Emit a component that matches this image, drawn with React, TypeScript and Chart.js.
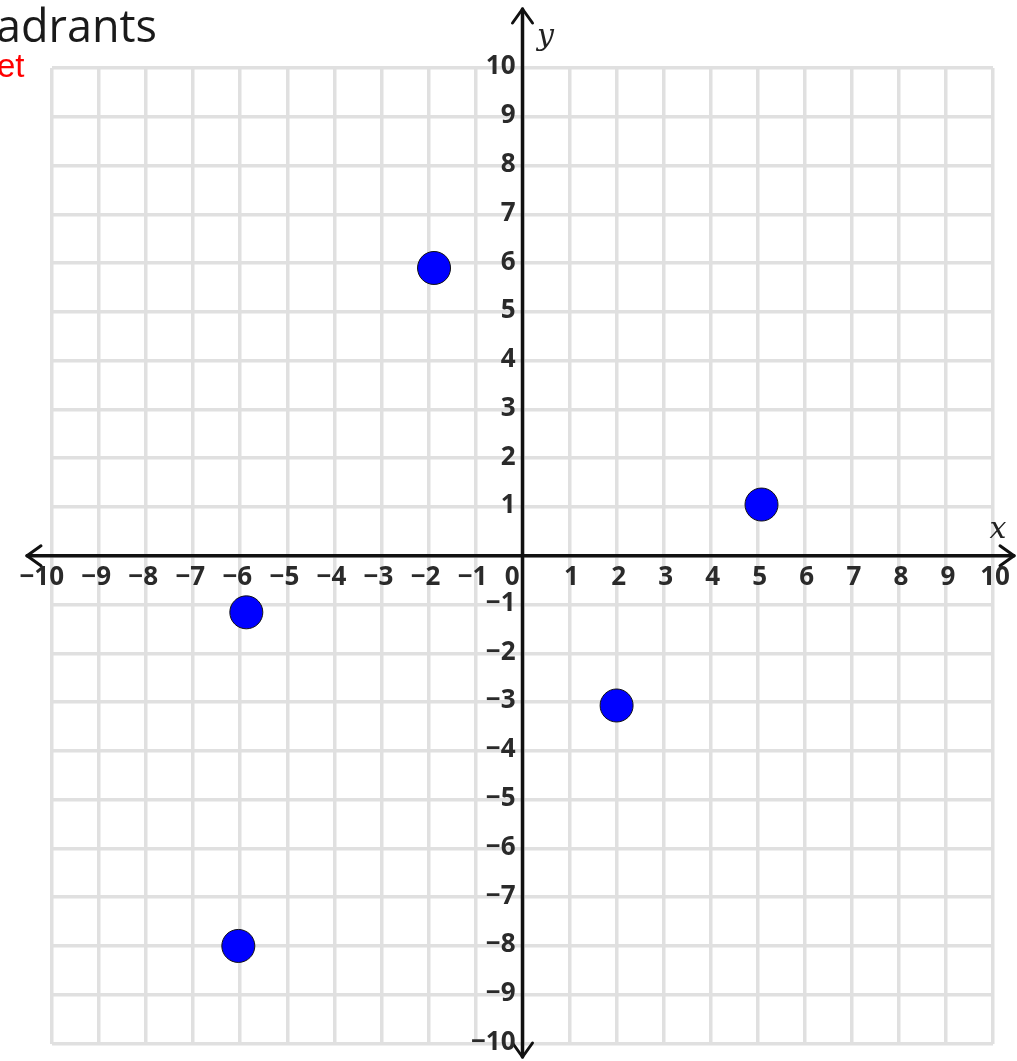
import React, { useEffect, useRef } from "react";
import { Chart, registerables } from "chart.js";

Chart.register(...registerables);

const pointXs = [-1.88, 5.08, -5.87, 2.0, -6.04];
const pointYs = [5.9, 1.05, -1.16, -3.07, -8.0];
const xTickValues = [-10, -9, -8, -7, -6, -5, -4, -3, -2, -1, 0, 1, 2, 3, 4, 5, 6, 7, 8, 9, 10];
const xTickLabels = ["−10", "−9", "−8", "−7", "−6", "−5", "−4", "−3", "−2", "−1", "0", "1", "2", "3", "4", "5", "6", "7", "8", "9", "10"];
const yTickValues = [-10, -9, -8, -7, -6, -5, -4, -3, -2, -1, 1, 2, 3, 4, 5, 6, 7, 8, 9, 10];
const yTickLabels = ["−10", "−9", "−8", "−7", "−6", "−5", "−4", "−3", "−2", "−1", "1", "2", "3", "4", "5", "6", "7", "8", "9", "10"];
const titleText = "adrants";
const subtitleText = "et";
const xAxisName = "x";
const yAxisName = "y";

const axesPlugin = {
  id: "quadAxes",
  afterDraw(chart: any) {
    const ctx = chart.ctx;
    const xs = chart.scales.x;
    const ys = chart.scales.y;
    const ox = xs.getPixelForValue(0);
    const oy = ys.getPixelForValue(0);
    ctx.save();
    // titles
    ctx.fillStyle = "#1a1a1a";
    ctx.font = "45px 'Open Sans', sans-serif";
    ctx.textAlign = "left";
    ctx.textBaseline = "alphabetic";
    ctx.fillText(titleText, -4, 42);
    ctx.fillStyle = "#ff0000";
    ctx.font = "33px 'Liberation Sans', Arial, sans-serif";
    ctx.fillText(subtitleText, -3, 77);

    // axes lines
    ctx.strokeStyle = "#111";
    ctx.lineWidth = 3.5;
    ctx.lineCap = "round";
    ctx.lineJoin = "round";
    const left = 27, right = 1014, top = 9, bottom = 1057;
    ctx.beginPath();
    ctx.moveTo(left, oy);
    ctx.lineTo(right, oy);
    ctx.moveTo(ox, top);
    ctx.lineTo(ox, bottom);
    ctx.stroke();
    ctx.lineWidth = 3;
    ctx.beginPath();
    ctx.moveTo(left + 14, oy - 10);
    ctx.lineTo(left, oy);
    ctx.lineTo(left + 14, oy + 10);
    ctx.moveTo(right - 14, oy - 10);
    ctx.lineTo(right, oy);
    ctx.lineTo(right - 14, oy + 10);
    ctx.moveTo(ox - 10, top + 14);
    ctx.lineTo(ox, top);
    ctx.lineTo(ox + 10, top + 14);
    ctx.moveTo(ox - 10, bottom - 14);
    ctx.lineTo(ox, bottom);
    ctx.lineTo(ox + 10, bottom - 14);
    ctx.stroke();

    // tick labels
    ctx.fillStyle = "#2a2a2a";
    ctx.font = "bold 26px 'Open Sans', sans-serif";
    ctx.textBaseline = "middle";
    xTickValues.forEach((v, i) => {
      const px = xs.getPixelForValue(v);
      const lab = xTickLabels[i];
      if (v < 0) {
        ctx.textAlign = "right";
        ctx.fillText(lab, px + 12, oy + 22);
      } else if (v === 0) {
        ctx.textAlign = "right";
        ctx.fillText(lab, px - 3, oy + 22);
      } else {
        ctx.textAlign = "center";
        ctx.fillText(lab, px + 2, oy + 22);
      }
    });
    yTickValues.forEach((v, i) => {
      const py = ys.getPixelForValue(v);
      ctx.textAlign = "right";
      ctx.fillText(yTickLabels[i], ox - 7, py - 1);
    });

    // axis names
    ctx.font = "italic 30px 'DejaVu Serif', serif";
    ctx.fillStyle = "#222";
    ctx.textAlign = "center";
    ctx.fillText(xAxisName, 998, oy - 26);
    ctx.fillText(yAxisName, ox + 23, 37);
    ctx.restore();
  },
};

export default function App() {
  const ref = useRef<HTMLCanvasElement | null>(null);
  useEffect(() => {
    if (!ref.current) return;
    const chart = new Chart(ref.current, {
      type: "scatter",
      data: {
        datasets: [
          {
            data: pointXs.map((x, i) => ({ x, y: pointYs[i] })),
            backgroundColor: "#0000ff",
            borderColor: "#111",
            borderWidth: 1,
            pointRadius: 16.5,
            pointHoverRadius: 16.5,
          },
        ],
      },
      options: {
        animation: false,
        responsive: false,
        maintainAspectRatio: false,
        layout: { padding: { left: 52, right: 24, top: 68, bottom: 13 } },
        plugins: { legend: { display: false }, tooltip: { enabled: false }, title: { display: false } },
        scales: {
          x: {
            type: "linear",
            min: -10,
            max: 10,
            ticks: { display: false, stepSize: 1 },
            grid: { color: "#e0e0e0", lineWidth: 3.5, drawTicks: false },
            border: { display: false },
          },
          y: {
            type: "linear",
            min: -10,
            max: 10,
            ticks: { display: false, stepSize: 1 },
            grid: { color: "#e0e0e0", lineWidth: 3.5, drawTicks: false },
            border: { display: false },
          },
        },
      },
      plugins: [axesPlugin],
    });
    return () => chart.destroy();
  }, []);
  return (
    <div style={{ position: "fixed", left: 0, top: 0, width: 1017, height: 1061, background: "#fff" }}>
      <canvas ref={ref} width={1017} height={1061} style={{ width: 1017, height: 1061 }} />
    </div>
  );
}
